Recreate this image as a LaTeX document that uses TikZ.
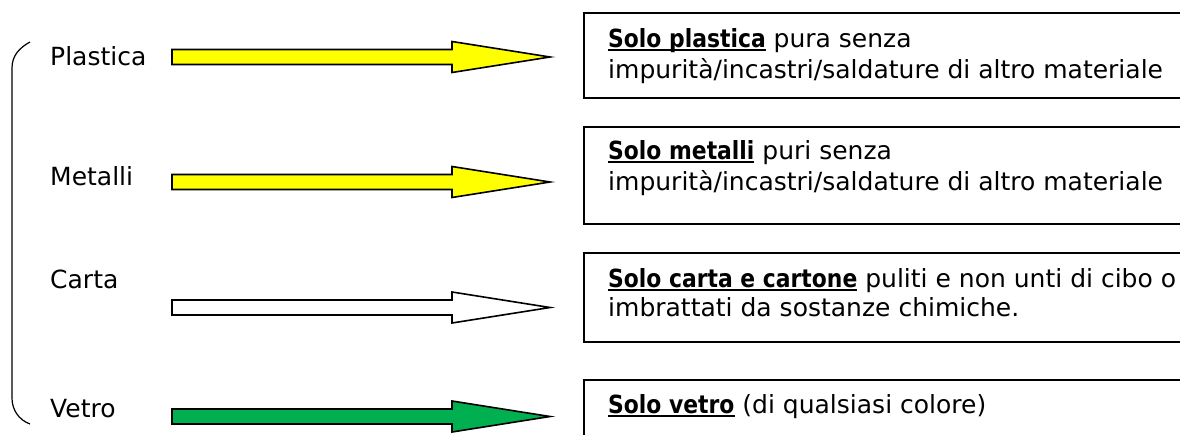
\documentclass[tikz,border=0pt]{standalone}
\usepackage{fontspec}
\usepackage{graphicx}
\setmainfont{DejaVu Sans}
\newcommand\myul[1]{\setbox0\hbox{#1}\rlap{\rule[-4pt]{\wd0}{2pt}}\box0\relax}
\newcommand\hd[1]{\myul{\scalebox{0.875}[1]{\bfseries #1}}}
\definecolor{ayellow}{HTML}{FFFF00}
\definecolor{agreen}{HTML}{00B050}
\tikzset{
  txt/.style={anchor=base west, inner sep=0pt, font=\fontsize{25}{30}\selectfont},
  boxst/.style={draw=black, line width=1.6pt, anchor=north west, minimum width=640pt, inner sep=0pt},
  blockarrow/.style={draw=black, line width=1.6pt, line join=miter},
  brace/.style={draw=black, line width=1.2pt}
}
\newcommand\blockarr[2]{%
  \draw[blockarrow, fill=#2] (172,#1-7.5) -- (452,#1-7.5) -- (452,#1-15.5) -- (550,#1) -- (452,#1+15.5) -- (452,#1+7.5) -- (172,#1+7.5) -- cycle;}
\begin{document}
\begin{tikzpicture}[x=1pt,y=-1pt]
\useasboundingbox (0,0) rectangle (1180,434);
\clip (0,0) rectangle (1180,434);
\fill[white] (0,0) rectangle (1180,434);
% brace
\coordinate (bt) at (30,42);
\coordinate (bb) at (30,424);
\draw[brace] (bt) .. controls (19,48) and (12,56) .. (12,68) -- (12,398) .. controls (12,410) and (19,420) .. (bb);
% labels
\node[txt] (lp) at (50,65) {Plastica};
\node[txt] (lm) at (50,185) {Metalli};
\node[txt] (lc) at (50,288) {Carta};
\node[txt] (lv) at (50,417) {Vetro};
% arrows
\blockarr{57}{ayellow}
\blockarr{182}{ayellow}
\blockarr{307.5}{white}
\blockarr{416.5}{agreen}
% boxes
\node[boxst, minimum height=85pt] (b1) at (583,12) {};
\node[boxst, minimum height=97pt] (b2) at (583,126) {};
\node[boxst, minimum height=89pt] (b3) at (583,252) {};
\node[boxst, minimum height=80pt] (b4) at (583,379) {};
% box texts
\node[txt] (t1a) at (608,47) {\hd{Solo plastica} pura senza};
\node[txt] (t1b) at (608,78) {impurità/incastri/saldature di altro materiale};
\node[txt] (t2a) at (608,159) {\hd{Solo metalli} puri senza};
\node[txt] (t2b) at (608,190) {impurità/incastri/saldature di altro materiale};
\node[txt] (t3a) at (608,287) {\hd{Solo carta e cartone} puliti e non unti di cibo o};
\node[txt] (t3b) at (608,316) {imbrattati da sostanze chimiche.};
\node[txt] (t4a) at (608,413) {\hd{Solo vetro} (di qualsiasi colore)};
\end{tikzpicture}
\end{document}
